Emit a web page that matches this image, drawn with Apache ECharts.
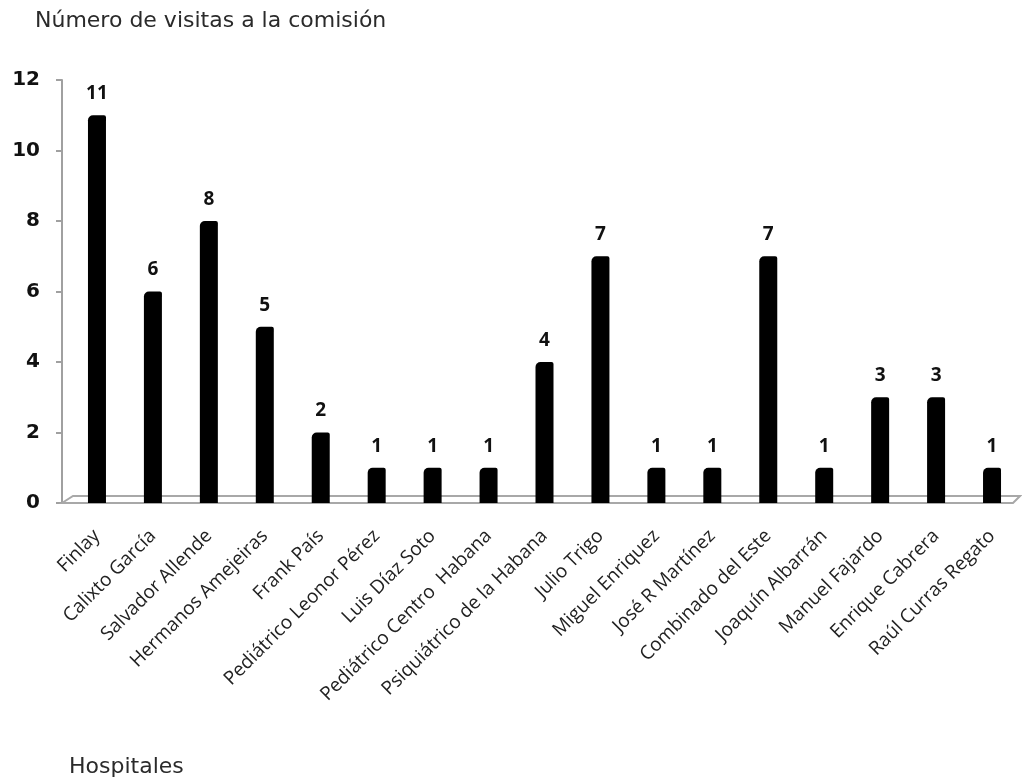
<!DOCTYPE html>
<html>
<head>
<meta charset="utf-8">
<script src="https://cdn.jsdelivr.net/npm/echarts@6/dist/echarts.min.js"></script>
<style>
  html, body { margin: 0; padding: 0; background: #fff; }
  #main { width: 1022px; height: 780px; }
</style>
</head>
<body>
<div id="main"></div>
<script>
var hospitales = ['Finlay', 'Calixto García', 'Salvador Allende', 'Hermanos Amejeiras', 'Frank País',
  'Pediátrico Leonor Pérez', 'Luis Díaz Soto', 'Pediátrico Centro  Habana', 'Psiquiátrico de la Habana',
  'Julio Trigo', 'Miguel Enriquez', 'José R Martínez', 'Combinado del Este', 'Joaquín Albarrán',
  'Manuel Fajardo', 'Enrique Cabrera', 'Raúl Curras Regato'];
var visitas = [11, 6, 8, 5, 2, 1, 1, 1, 4, 7, 1, 1, 7, 1, 3, 3, 1];
var yTicks = [0, 2, 4, 6, 8, 10, 12];

var dom = document.getElementById('main');
var myChart = echarts.init(dom, null, { renderer: 'canvas' });

var option = {
  animation: false,
  title: [
    {
      text: 'Número de visitas a la comisión',
      left: 30, top: 5,
      textStyle: { fontFamily: 'DejaVu Sans', fontSize: 22, fontWeight: 'normal', color: '#2a2a2a' }
    },
    {
      text: 'Hospitales',
      left: 64, top: 751,
      textStyle: { fontFamily: 'DejaVu Sans', fontSize: 22, fontWeight: 'normal', color: '#2a2a2a' }
    }
  ],
  grid: { left: 69, right: 2, top: 80, bottom: 277, containLabel: false },
  xAxis: {
    type: 'category',
    data: hospitales,
    axisLine: { show: false },
    axisTick: { show: false },
    axisLabel: {
      interval: 0, rotate: 45, margin: 30,
      fontFamily: 'Open Sans', fontSize: 19, color: '#222'
    }
  },
  yAxis: {
    type: 'value',
    min: yTicks[0], max: yTicks[yTicks.length - 1], interval: 2,
    offset: 7,
    axisLine: { show: true, lineStyle: { color: '#a0a0a0', width: 2 } },
    axisTick: { show: true, length: 6, lineStyle: { color: '#a0a0a0', width: 2 } },
    splitLine: { show: false },
    axisLabel: { margin: 22, fontFamily: 'DejaVu Sans', fontSize: 20, fontWeight: 'bold', color: '#111' }
  },
  series: [{
    type: 'bar',
    data: visitas,
    barWidth: 18,
    itemStyle: { color: '#000', borderRadius: [5, 2, 0, 0] },
    label: {
      show: true, position: 'top', distance: 12,
      fontFamily: 'Open Sans', fontSize: 19, fontWeight: 'bold', color: '#111'
    }
  }]
};

myChart.setOption(option);

// 3D-style floor built from the grid's pixel extents
var first = myChart.convertToPixel({ gridIndex: 0 }, [0, 0]);
var last = myChart.convertToPixel({ gridIndex: 0 }, [hospitales.length - 1, 0]);
var half = (last[0] - first[0]) / (hospitales.length - 1) / 2;
var x0 = first[0] - half - 7, x1 = last[0] + half, y0 = first[1];
myChart.setOption({
  graphic: [{
    type: 'polygon',
    z: 1,
    shape: { points: [[x0, y0], [x0 + 11, y0 - 7], [x1, y0 - 7], [x1 - 7, y0]] },
    style: { fill: 'none', stroke: '#a8a8a8', lineWidth: 2 }
  }]
});

window.addEventListener('resize', myChart.resize);
</script>
</body>
</html>
